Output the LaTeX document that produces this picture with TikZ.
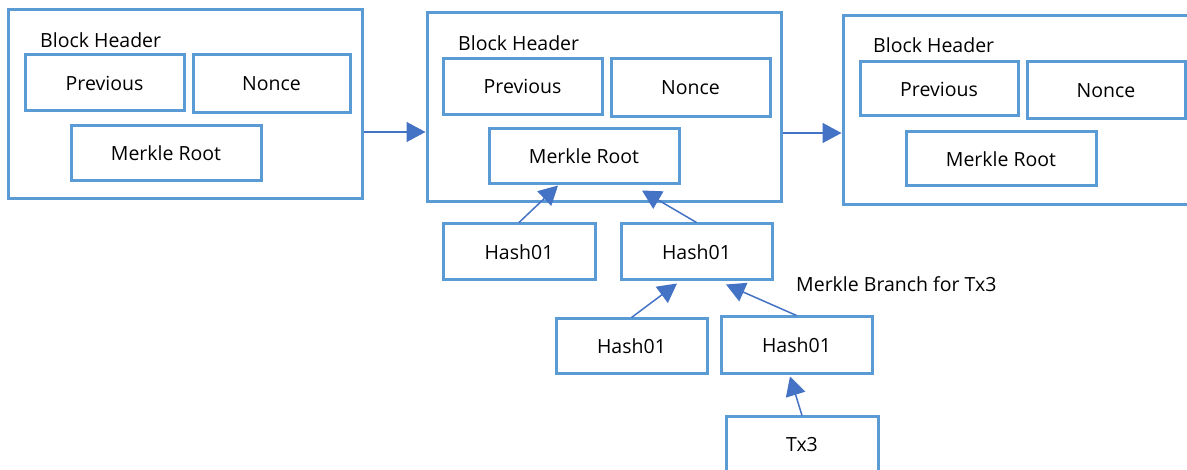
\documentclass[tikz,border=0pt]{standalone}
\usepackage{fontspec}
\setmainfont{Open Sans}
\usetikzlibrary{arrows.meta, positioning}
\definecolor{officeBlue}{RGB}{91, 155, 213}
\definecolor{officeDarkBlue}{RGB}{68, 114, 196}
\colorlet{box edge}{officeBlue}
\colorlet{arrow line}{officeDarkBlue}
\tikzset{
    block/.style={draw=box edge, line width=3pt, minimum width=354pt, minimum height=189pt, inner sep=0pt},
    field/.style={draw=box edge, line width=3pt, minimum width=159pt, minimum height=56pt, inner sep=0pt, font=\fontsize{19.5}{22}\selectfont},
    rootbox/.style={field, minimum width=190pt, minimum height=55pt},
    hashbox/.style={field, minimum width=152pt},
    headtext/.style={anchor=base west, inner sep=0pt, font=\fontsize{19.5}{22}\selectfont},
    link/.style={draw=arrow line, line width=1.5pt, -{Triangle[length=19pt, width=20pt]}}
}

\begin{document}
\begin{tikzpicture}[x=1pt, y=-1pt]
    % Fix the visible area
    \clip (0,0) rectangle (1187,470);

    % Draw the three blocks with their headers
    \node[block] (blockA) at (185.5,104.5) {};
    \node[headtext] (headA) at (40,48) {Block Header};
    \node[field] (prevA) at (104.5,83) {Previous};
    \node[field, minimum width=157pt, minimum height=58pt] (nonceA) at (271.5,84) {Nonce};
    \node[rootbox] (rootA) at (166,153.5) {Merkle Root};

    \node[block] (blockB) at (604,107.5) {};
    \node[headtext] (headB) at (458,51) {Block Header};
    \node[field] (prevB) at (522.5,86.5) {Previous};
    \node[field, minimum height=58pt] (nonceB) at (690.5,88) {Nonce};
    \node[rootbox] (rootB) at (584,156.5) {Merkle Root};

    \node[block] (blockC) at (1020,110) {};
    \node[headtext] (headC) at (873,53) {Block Header};
    \node[field, minimum width=158pt, minimum height=54pt] (prevC) at (939,89) {Previous};
    \node[field, minimum width=158pt, minimum height=57pt] (nonceC) at (1106,90.5) {Nonce};
    \node[rootbox, minimum height=54pt] (rootC) at (1001,159) {Merkle Root};

    % Chain the blocks
    \draw[link] ([yshift=-27.5pt]blockA.east) -- ([yshift=-24.5pt]blockB.west);
    \draw[link] ([yshift=-25.5pt]blockB.east) -- ([yshift=-23pt]blockC.west);

    % Draw the merkle branch below the middle block
    \node[hashbox] (hashL) at (519,252) {Hash01};
    \node[hashbox, minimum width=151pt] (hashR) at (696.5,252) {Hash01};
    \node[hashbox, minimum width=151pt, minimum height=55pt] (hashRL) at (631.5,346.5) {Hash01};
    \node[hashbox, minimum width=151pt, minimum height=57pt] (hashRR) at (796.5,345.5) {Hash01};
    \node[hashbox] (tx) at (802,445) {Tx3};
    \node[headtext] (branch) at (796,292) {Merkle Branch for Tx3};

    \draw[link] (hashL.north) -- ([xshift=-26pt]rootB.south);
    \draw[link] (hashR.north) -- ([xshift=58pt, yshift=-5pt]rootB.south);
    \draw[link] (hashRL.north) -- ([xshift=-19.5pt, yshift=-2pt]hashR.south);
    \draw[link] (hashRR.north) -- ([xshift=29.5pt, yshift=-3pt]hashR.south);
    \draw[link] (tx.north) -- ([xshift=-6.5pt, yshift=-1pt]hashRR.south);
\end{tikzpicture}
\end{document}
